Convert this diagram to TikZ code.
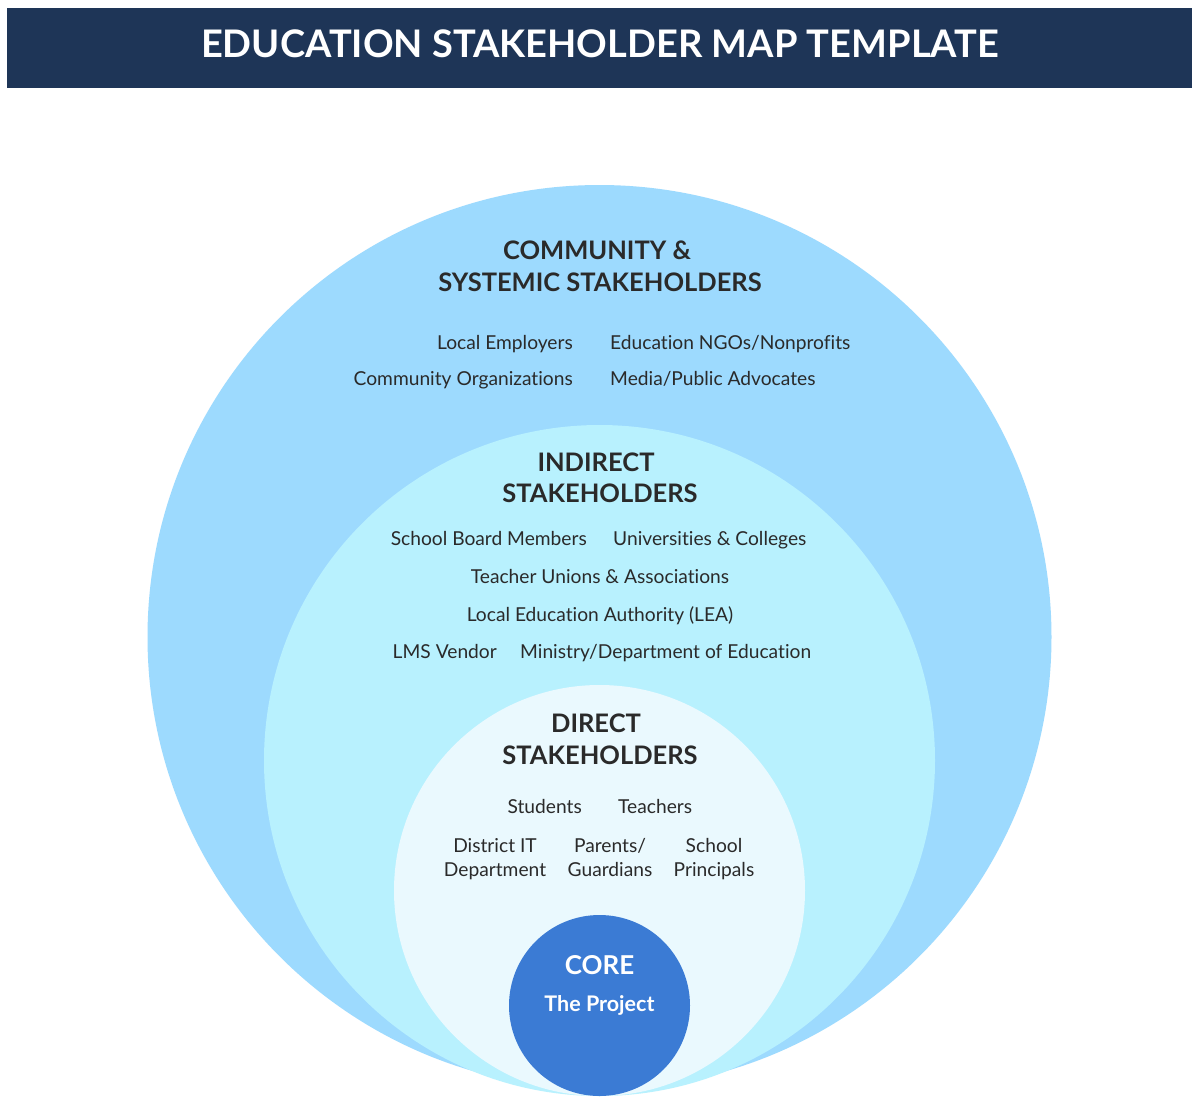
\documentclass[tikz,border=0pt]{standalone}
\usepackage{fontspec}
\setmainfont{Lato}[Ligatures={NoCommon,NoRare,NoContextual}]
\definecolor{titlebg}{HTML}{1E3557}
\definecolor{outerc}{HTML}{9DDAFE}
\definecolor{midc}{HTML}{B8F1FE}
\definecolor{innerc}{HTML}{EAF9FE}
\definecolor{corec}{HTML}{3B7BD4}
\definecolor{txt}{HTML}{2A2A2A}
\begin{document}
\begin{tikzpicture}[x=1pt,y=-1pt,
  heading/.style={font=\fontsize{25.5}{32}\selectfont\bfseries, text=txt, inner sep=0pt, align=center},
  item/.style={font=\fontsize{19.2}{24}\selectfont, text=txt, inner sep=0pt},
  ring/.style={circle, draw=none, inner sep=0pt}]
\useasboundingbox (0,0) rectangle (1200,1104);
\fill[white] (0,0) rectangle (1200,1104);
% title bar
\node[fill=titlebg, minimum width=1185pt, minimum height=80pt, inner sep=0pt, anchor=north west] (bar) at (7,8) {};
\node[font=\fontsize{38}{42}\selectfont\bfseries, text=white, anchor=base, inner sep=0pt] (title) at (600,57) {EDUCATION STAKEHOLDER MAP TEMPLATE};
% circles
\node[ring, fill=outerc, minimum size=904pt] (outer) at (599.5,637) {};
\node[ring, fill=midc, minimum size=671pt] (mid) at (599.5,760.5) {};
\node[ring, fill=innerc, minimum size=411pt] (inner) at (599.5,890.5) {};
\node[ring, fill=corec, minimum size=181pt] (core) at (599.5,1005.5) {};
% community
\node[heading, anchor=base] (h1a) at (597,259) {COMMUNITY \&};
\node[heading, anchor=base] (h1b) at (600,291) {SYSTEMIC STAKEHOLDERS};
\node[item, anchor=base east] (c1) at (573,349) {Local Employers};
\node[item, anchor=base east] (c2) at (573,385) {Community Organizations};
\node[item, anchor=base west] (c3) at (610,349) {Education NGOs/Nonprofits};
\node[item, anchor=base west] (c4) at (610,385) {Media/Public Advocates};
% indirect
\node[heading, anchor=base] (h2a) at (596,471) {INDIRECT};
\node[heading, anchor=base] (h2b) at (600,502) {STAKEHOLDERS};
\node[item, anchor=base east] (i1) at (587,545) {School Board Members};
\node[item, anchor=base west] (i2) at (613,545) {Universities \& Colleges};
\node[item, anchor=base] (i3) at (600,583) {Teacher Unions \& Associations};
\node[item, anchor=base] (i4) at (600,621) {Local Education Authority (LEA)};
\node[item, anchor=base east] (i5) at (497,658) {LMS Vendor};
\node[item, anchor=base west] (i6) at (520,658) {Ministry/Department of Education};
% direct
\node[heading, anchor=base] (h3a) at (596,732) {DIRECT};
\node[heading, anchor=base] (h3b) at (600,764) {STAKEHOLDERS};
\node[item, anchor=base east] (d1) at (582,813) {Students};
\node[item, anchor=base west] (d2) at (618,813) {Teachers};
\node[item, anchor=base, align=center] (d3) at (495,876) {District IT\\Department};
\node[item, anchor=base, align=center] (d4) at (610,876) {Parents/\\Guardians};
\node[item, anchor=base, align=center] (d5) at (714,876) {School\\Principals};
% core
\node[font=\fontsize{26}{30}\selectfont\bfseries, text=white, anchor=base, inner sep=0pt] (corea) at (599.5,974) {CORE};
\node[font=\fontsize{21.5}{24}\selectfont\bfseries, text=white, anchor=base, inner sep=0pt] (coreb) at (599.5,1011) {The Project};
\end{tikzpicture}
\end{document}
